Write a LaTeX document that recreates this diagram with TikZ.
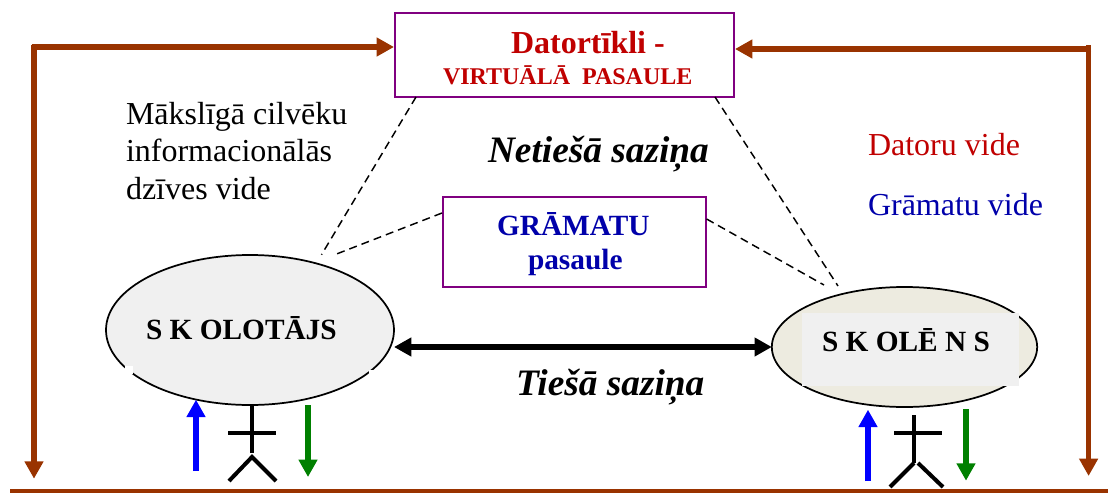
\documentclass[tikz,border=0pt]{standalone}
\usepackage{fontspec}
\setmainfont{Liberation Serif}
\usetikzlibrary{arrows.meta,shapes.geometric}
\definecolor{brunaine}{HTML}{993300}
\definecolor{sarkana}{HTML}{C00000}
\definecolor{zila}{HTML}{0000AA}
\definecolor{violeta}{HTML}{800080}
\tikzset{
	txt/.style = {anchor=base west, inner sep=0pt, outer sep=0pt},
	kaste/.style = {draw=violeta, line width=1.6pt, fill=white, minimum width=#1, inner sep=0pt, outer sep=0pt},
	aplis/.style = {draw=black, ellipse, line width=1.3pt, inner sep=0pt, outer sep=0pt},
	bulta/.style = {line width=3.8pt, -{Triangle[length=13pt,width=13.5pt]}},
	abasbulta/.style = {line width=3.8pt, {Triangle[length=13pt,width=13.5pt]}-{Triangle[length=13pt,width=13.5pt]}},
	svitra/.style = {line width=1.1pt, dash pattern=on 6pt off 3.8pt},
	cilv/.style = {line width=3pt}
}
\begin{document}
\begin{tikzpicture}[x=0.75pt,y=-0.75pt]
	\useasboundingbox (0,0) rectangle (1108,493);
	\draw (564.5,55) node[kaste=254.5pt, minimum height=63pt] (virtuala) {};
	\draw (574.3,242) node[kaste=197.5pt, minimum height=67.5pt] (gramatu) {};
	\draw (250,330) node[aplis, fill=black!6, minimum width=216pt, minimum height=112.5pt] (skolotajs) {};
	\draw (904.5,347) node[aplis, fill={rgb,255:red,237;green,235;blue,224}, minimum width=199pt, minimum height=90pt] (skolens) {};
	\fill[black!6] (802,313) rectangle (1019,386);
	\fill[white] (125,366) rectangle (133,374);
	\fill[white] (369,370) rectangle (376,375);

	\coordinate (virtA) at (416,97);
	\coordinate (virtB) at (715,97);
	\coordinate (gramA) at (442,213);
	\coordinate (gramB) at (706.6,219);
	\coordinate (skoA) at (321.5,254.7);
	\coordinate (skoB) at (334,255);
	\coordinate (sknA) at (838,286);
	\coordinate (sknB) at (824,285);
	\draw[svitra] (virtA) -- (skoA);
	\draw[svitra] (gramA) -- (skoB);
	\draw[svitra] (virtB) -- (sknA);
	\draw[svitra] (gramB) -- (sknB);

	\coordinate (kreisaAug) at (34,45);
	\coordinate (kreisaLej) at (34,478.7);
	\coordinate (kreisaGal) at (31.5,47);
	\coordinate (kreisaVirt) at (394,47);
	\coordinate (labaAug) at (1088.6,45);
	\coordinate (labaLej) at (1088.6,476);
	\coordinate (labaGal) at (1091,49);
	\coordinate (labaVirt) at (735,49);
	\coordinate (pamatsA) at (10,491);
	\coordinate (pamatsB) at (1108,491);
	\draw[bulta, brunaine] (kreisaGal) -- (kreisaVirt);
	\draw[bulta, brunaine] (kreisaAug) -- (kreisaLej);
	\draw[bulta, brunaine] (labaGal) -- (labaVirt);
	\draw[bulta, brunaine] (labaAug) -- (labaLej);
	\draw[brunaine, line width=3pt] (pamatsA) -- (pamatsB);
	\draw[abasbulta] (skolotajs.east |- skolens.west) -- (skolens.west);

	\coordinate (zilaA) at (196,471);
	\coordinate (zilaB) at (196,399.7);
	\coordinate (zalaA) at (308,405);
	\coordinate (zalaB) at (308,477);
	\coordinate (zilaC) at (868,481);
	\coordinate (zilaD) at (868,409.7);
	\coordinate (zalaC) at (966,409);
	\coordinate (zalaD) at (966,480.7);
	\draw[bulta, line width=4.4pt, blue] (zilaA) -- (zilaB);
	\draw[bulta, line width=4.4pt, green!50!black] (zalaA) -- (zalaB);
	\draw[bulta, line width=4.4pt, blue] (zilaC) -- (zilaD);
	\draw[bulta, line width=4.4pt, green!50!black] (zalaC) -- (zalaD);

	\draw[cilv] (252,405) -- (252,453);
	\draw[cilv] (228,433) -- (276,433);
	\draw[cilv] (229,481) -- (252,457) -- (276,481);
	\draw[cilv] (914,415) -- (914,463);
	\draw[cilv] (894,433) -- (942,433);
	\draw[cilv] (914,463) -- (890,487);
	\draw[cilv] (918,463) -- (943,487);

	\draw (511,53.5) node[txt, text=sarkana, font=\fontsize{24}{28}\selectfont\bfseries] (datortikli) {Datortīkli -};
	\draw (443,84) node[txt, text=sarkana, font=\fontsize{18}{22}\selectfont\bfseries] (pasaule) {VIRTUĀLĀ\ \ PASAULE};
	\draw (126,124) node[txt, font=\fontsize{24}{28}\selectfont] (maksliga) {Mākslīgā cilvēku};
	\draw (126,161.5) node[txt, font=\fontsize{24}{28}\selectfont] (inform) {informacionālās};
	\draw (126,199) node[txt, font=\fontsize{24}{28}\selectfont] (dzives) {dzīves vide};
	\draw (868,155.5) node[txt, text=sarkana, font=\fontsize{24}{28}\selectfont] (datoru) {Datoru vide};
	\draw (868,215) node[txt, text=zila, font=\fontsize{24}{28}\selectfont] (gramvide) {Grāmatu vide};
	\draw (488,162) node[txt, font=\fontsize{28}{32}\selectfont\bfseries\itshape] (netiesa) {Netiešā saziņa};
	\draw (516,395) node[txt, font=\fontsize{28}{32}\selectfont\bfseries\itshape] (tiesa) {Tiešā saziņa};
	\draw (497,235) node[txt, text=zila, font=\fontsize{22}{26}\selectfont\bfseries] (gram) {GRĀMATU};
	\draw (528,269) node[txt, text=zila, font=\fontsize{22}{26}\selectfont\bfseries] (gramp) {pasaule};
	\draw (146,339) node[txt, font=\fontsize{22}{26}\selectfont\bfseries] (skolotext) {S K OLOTĀJS};
	\draw (822,351) node[txt, font=\fontsize{22}{26}\selectfont\bfseries] (skolentext) {S K OLĒ N S};
\end{tikzpicture}
\end{document}
